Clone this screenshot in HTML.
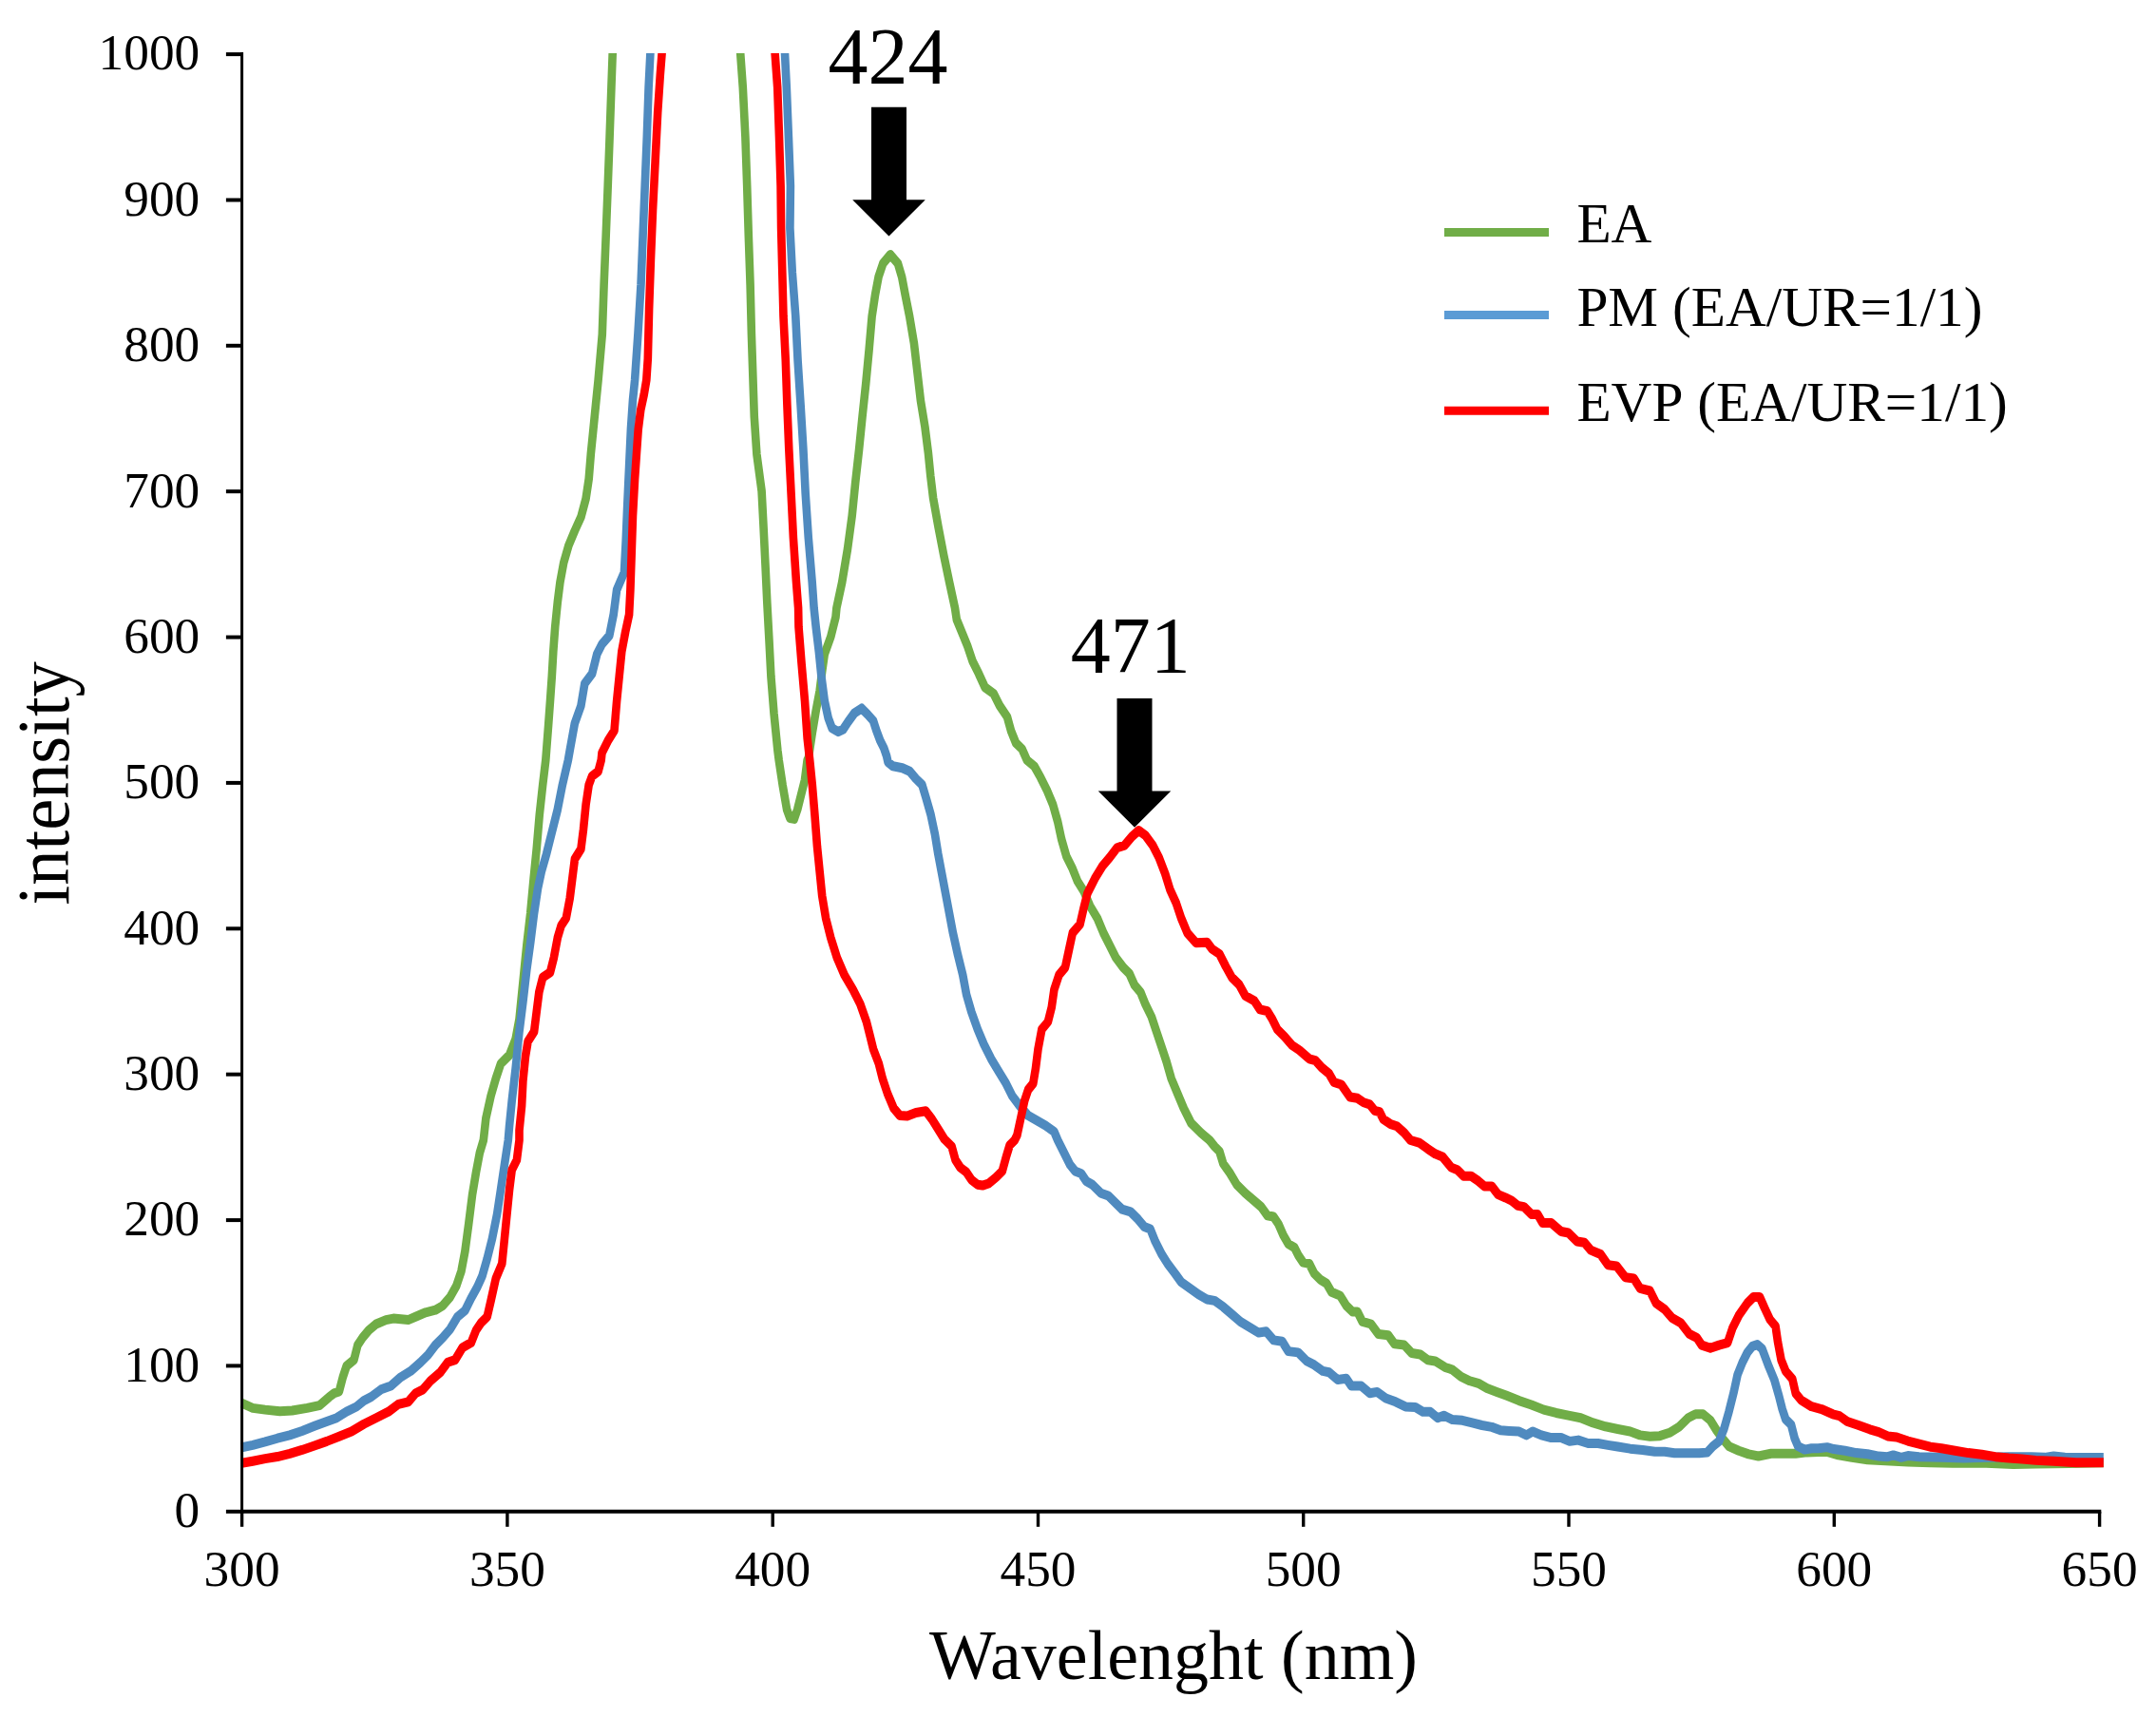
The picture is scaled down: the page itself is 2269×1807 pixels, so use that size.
<!DOCTYPE html>
<html><head><meta charset="utf-8"><title>Spectra</title>
<style>
html,body{margin:0;padding:0;background:#fff;}
body{width:2269px;height:1807px;overflow:hidden;}
svg{display:block;}
text{font-family:"Liberation Serif",serif;fill:#000;}
.tk{font-size:53.3px;}
.ttl{font-size:74px;}
.lg{font-size:59.3px;font-kerning:none;}
.an{font-size:84px;}
.c{fill:none;stroke-width:8.6;stroke-linejoin:round;stroke-linecap:butt;}
</style></head><body>
<svg width="2269" height="1807" viewBox="0 0 2269 1807">
<rect width="2269" height="1807" fill="#fff"/>
<defs><clipPath id="pa"><rect x="250" y="56" width="1964" height="1540"/></clipPath></defs>

<g clip-path="url(#pa)"><g transform="scale(1,1.1628)">
<polyline class="c" stroke="#70AD47" points="254.3,1269.9 266.0,1274.4 279.0,1275.9 294.5,1277.3 307.5,1276.6 323.1,1274.4 336.1,1272.1 346.5,1264.3 351.7,1261.0 356.9,1259.4 360.8,1246.4 364.7,1236.4 372.5,1230.8 376.4,1217.4 381.6,1210.7 388.1,1204.0 395.8,1198.4 406.2,1194.6 414.0,1193.3 421.8,1193.9 429.6,1194.6 437.4,1191.7 447.8,1187.9 458.2,1185.7 466.0,1181.7 473.8,1173.8 480.3,1163.8 485.5,1150.4 489.4,1132.5 493.2,1107.9 497.1,1081.1 501.0,1061.0 504.9,1043.2 508.8,1032.0 511.4,1011.9 516.6,991.8 521.8,976.2 527.0,962.8 536.1,954.9 542.6,940.4 546.5,922.5 550.4,889.0 554.3,855.5 558.2,826.5 561.6,795.2 564.7,768.4 567.8,737.1 571.2,710.3 574.3,688.0 575.1,679.1 577.1,656.7 579.0,634.4 580.8,612.1 582.3,589.7 584.2,567.4 586.8,545.0 589.4,527.2 593.2,509.3 598.4,493.7 604.9,480.3 611.4,468.0 616.6,451.2 619.7,433.4 621.8,411.0 624.4,388.7 627.0,366.3 629.6,344.0 633.8,302.5 635.6,257.8 637.7,213.1 639.7,168.4 641.6,123.8 643.4,79.1 644.7,48.2 652.0,-129.0 770.0,-129.0 779.2,48.2 781.8,79.1 784.4,123.8 786.2,168.4 787.8,213.1 789.6,257.8 790.9,302.5 793.8,377.5 796.4,411.0 801.6,444.5 803.6,478.0 805.5,511.5 807.3,545.0 809.4,578.5 811.4,612.1 814.5,645.6 818.4,679.1 819.7,688.0 823.6,710.3 828.1,732.7 831.4,740.5 835.8,741.2 839.2,732.7 843.1,719.3 847.0,705.9 849.6,688.0 850.9,685.8 854.8,663.4 858.7,643.3 862.6,625.5 865.2,607.6 867.8,591.9 874.3,576.3 879.5,558.4 880.4,550.3 886.2,526.9 892.0,496.9 896.7,466.8 900.2,436.8 904.1,406.7 907.6,376.7 911.3,346.6 914.6,316.6 917.6,286.5 921.1,266.5 924.6,250.5 929.3,238.4 937.0,230.4 944.9,238.4 949.1,250.5 952.6,266.5 957.2,286.5 961.9,310.6 965.4,336.6 968.9,362.6 973.5,386.7 977.0,410.7 979.3,430.7 982.1,450.8 987.5,476.8 993.3,502.9 999.1,526.9 1005.0,550.3 1006.8,560.7 1013.2,574.1 1018.4,585.2 1023.6,598.6 1030.1,609.8 1036.6,622.1 1045.7,627.7 1052.2,638.9 1060.0,648.9 1063.9,661.2 1069.1,672.4 1075.6,677.9 1080.8,688.0 1088.6,693.6 1095.1,703.6 1101.6,714.8 1108.1,728.2 1113.2,743.8 1117.1,759.5 1122.3,775.1 1128.8,786.3 1134.0,797.5 1140.5,806.4 1147.0,819.8 1154.8,831.0 1161.3,844.4 1167.8,855.5 1174.3,866.7 1182.1,875.6 1188.6,881.2 1193.8,891.3 1200.3,898.0 1205.5,909.1 1211.9,920.3 1217.1,933.7 1222.3,947.1 1227.5,960.5 1232.7,976.2 1239.2,989.6 1245.7,1003.0 1253.5,1016.4 1263.9,1025.3 1273.0,1032.0 1278.2,1037.6 1283.4,1042.1 1287.3,1053.2 1293.8,1061.0 1301.6,1072.2 1310.6,1080.0 1327.3,1092.3 1333.8,1100.1 1340.3,1101.2 1345.5,1107.9 1350.6,1118.0 1355.8,1125.8 1362.3,1129.2 1366.2,1135.9 1371.4,1142.6 1377.9,1143.7 1383.1,1152.6 1389.6,1158.2 1396.1,1161.6 1401.3,1169.4 1410.4,1172.7 1416.9,1181.7 1423.4,1187.2 1428.6,1187.2 1433.8,1196.2 1442.9,1198.4 1450.6,1207.4 1461.0,1208.5 1467.5,1216.3 1477.9,1217.4 1485.7,1224.6 1494.8,1225.9 1502.6,1230.8 1510.4,1231.9 1520.8,1237.5 1528.6,1239.7 1537.7,1246.0 1546.8,1249.8 1555.8,1252.0 1564.9,1256.5 1575.3,1259.8 1585.7,1263.2 1598.7,1267.7 1611.7,1271.5 1624.7,1275.9 1637.7,1278.8 1650.6,1281.1 1663.6,1283.3 1676.6,1287.8 1689.6,1291.1 1702.6,1293.4 1715.6,1295.6 1726.0,1298.9 1736.4,1300.1 1746.8,1299.6 1757.1,1296.7 1767.5,1291.1 1776.6,1283.3 1784.4,1279.9 1792.2,1279.9 1800.0,1285.5 1806.5,1294.5 1813.0,1302.3 1819.5,1309.0 1829.9,1313.0 1840.3,1316.1 1850.6,1317.9 1863.9,1315.6 1878.0,1315.6 1889.8,1315.6 1901.7,1314.4 1913.5,1314.0 1922.9,1314.0 1934.7,1317.0 1948.9,1319.1 1965.4,1321.1 1984.3,1322.1 2007.9,1323.1 2031.5,1323.7 2055.1,1324.1 2090.5,1324.1 2118.8,1325.2 2142.5,1324.9 2177.9,1324.3 2213.8,1323.7"/>
<polyline class="c" stroke="#4F8ABF" points="254.3,1310.1 266.0,1307.9 279.0,1305.0 291.9,1301.8 304.9,1298.9 317.9,1295.1 330.9,1290.7 343.9,1286.6 354.3,1283.3 364.7,1277.7 375.1,1273.2 382.9,1267.7 390.6,1264.3 401.0,1257.6 411.4,1254.3 421.8,1246.4 432.2,1240.9 442.6,1233.0 450.4,1226.3 458.2,1217.4 466.0,1210.7 473.8,1202.9 481.6,1191.7 489.4,1186.1 495.8,1175.0 502.3,1164.9 507.5,1154.9 512.7,1139.2 517.9,1121.4 523.1,1099.0 527.0,1076.7 530.9,1054.3 534.8,1032.0 536.1,1018.6 538.7,996.3 542.6,967.2 546.5,933.7 550.4,906.9 554.3,877.9 558.2,853.3 562.1,826.5 566.0,804.2 569.9,788.5 575.1,772.9 580.3,755.0 586.8,732.7 591.9,710.3 597.9,688.0 599.7,679.1 604.9,654.5 611.4,638.9 615.3,618.8 623.1,609.8 628.3,591.9 633.5,583.0 641.3,575.2 645.7,556.2 649.1,533.9 656.9,518.2 658.7,489.2 660.3,455.7 662.1,422.2 663.9,388.7 666.0,361.9 668.1,344.0 671.4,302.5 674.5,257.8 676.6,213.1 678.7,168.4 680.8,123.8 682.6,79.1 684.4,48.2 692.0,-129.0 818.0,-129.0 826.0,48.2 827.8,79.1 829.9,123.8 831.9,168.4 831.4,206.4 833.8,246.5 837.3,286.5 839.6,326.6 842.6,366.6 845.4,406.7 847.7,446.8 850.8,486.8 854.7,526.9 856.6,550.3 858.7,567.4 861.8,589.7 864.4,612.1 867.8,634.4 871.7,650.0 875.6,659.0 882.1,662.3 887.3,660.1 892.5,653.4 899.0,645.6 906.8,641.1 913.2,646.7 919.0,652.3 922.3,661.2 926.2,670.1 930.1,676.8 933.0,684.0 934.5,689.8 939.7,693.4 949.6,695.1 957.4,698.1 963.9,704.8 970.4,710.3 974.3,721.5 979.5,737.1 983.9,755.0 987.3,772.9 991.2,790.8 995.1,808.6 999.0,826.5 1002.9,844.4 1008.1,864.5 1013.2,882.3 1017.1,900.2 1022.3,915.8 1028.8,931.5 1035.3,944.9 1043.1,958.3 1050.9,969.5 1058.7,980.6 1065.2,991.8 1073.0,1000.7 1082.1,1009.7 1091.2,1014.1 1100.3,1018.6 1109.4,1024.2 1113.2,1032.0 1119.7,1043.2 1126.2,1054.3 1131.4,1059.9 1137.9,1062.2 1143.1,1068.9 1149.6,1072.2 1158.7,1080.0 1166.5,1082.3 1174.3,1089.0 1180.8,1094.5 1189.9,1096.8 1197.7,1103.5 1204.2,1110.2 1210.6,1112.4 1215.8,1123.6 1222.3,1134.8 1228.8,1143.7 1236.6,1152.6 1243.1,1160.4 1252.2,1166.0 1261.3,1171.6 1270.4,1176.1 1278.2,1177.2 1287.3,1182.8 1296.4,1189.5 1305.5,1196.2 1324.7,1206.2 1332.5,1205.1 1340.3,1212.9 1349.4,1214.1 1355.8,1223.0 1366.2,1224.1 1375.3,1231.9 1383.1,1235.3 1392.2,1240.9 1398.7,1242.0 1407.8,1248.7 1416.9,1247.6 1422.1,1254.3 1432.5,1254.3 1441.6,1261.0 1449.4,1259.8 1458.4,1265.4 1468.8,1268.8 1479.2,1273.2 1489.6,1273.7 1497.4,1277.7 1505.2,1277.7 1513.0,1283.3 1519.5,1281.1 1528.6,1284.9 1539.0,1285.5 1549.4,1287.8 1559.7,1290.0 1570.1,1291.6 1579.2,1294.5 1588.3,1295.1 1598.7,1295.6 1606.5,1298.9 1613.0,1295.6 1622.1,1298.9 1632.5,1301.2 1642.9,1301.2 1651.9,1304.5 1661.0,1303.4 1671.4,1306.3 1681.8,1306.3 1692.2,1307.9 1702.6,1309.4 1715.6,1311.2 1728.6,1312.3 1741.6,1313.9 1751.9,1313.9 1762.3,1315.2 1775.3,1315.2 1788.3,1315.2 1796.6,1314.6 1802.6,1309.0 1809.1,1304.5 1814.3,1293.4 1819.5,1277.7 1824.7,1259.8 1828.6,1244.2 1833.8,1233.0 1839.0,1224.1 1844.2,1218.5 1849.4,1217.0 1854.5,1220.8 1861.5,1236.8 1867.4,1249.0 1872.1,1263.2 1875.7,1275.4 1879.2,1284.5 1885.1,1289.6 1888.7,1301.8 1892.2,1308.9 1899.3,1312.0 1906.4,1310.9 1913.5,1310.9 1922.9,1309.9 1930.0,1311.5 1941.8,1313.0 1953.6,1315.0 1965.4,1316.0 1977.2,1318.0 1986.6,1318.5 1992.5,1317.0 2000.8,1319.1 2007.9,1317.6 2019.7,1318.5 2043.3,1319.1 2066.9,1319.7 2090.5,1319.1 2114.1,1318.5 2137.7,1318.5 2151.9,1319.1 2161.3,1318.0 2173.1,1319.1 2196.8,1319.3 2213.8,1319.3"/>
<polyline class="c" stroke="#FF0000" points="254.3,1324.2 266.0,1322.4 279.0,1320.2 291.9,1318.4 304.9,1315.7 317.9,1312.3 330.9,1308.5 343.9,1304.5 356.9,1300.1 369.9,1295.6 382.9,1288.9 395.8,1283.3 408.8,1277.7 419.2,1271.0 429.6,1268.8 437.4,1261.0 445.2,1257.6 453.0,1249.8 463.4,1242.0 471.2,1233.0 479.0,1230.8 486.8,1219.6 495.8,1215.2 501.0,1204.0 506.2,1197.3 512.7,1191.7 516.6,1177.2 521.8,1157.1 528.3,1143.7 530.9,1121.4 533.5,1099.0 536.1,1076.7 538.7,1058.8 543.9,1049.9 546.5,1032.0 546.5,1023.1 549.1,1000.7 550.4,978.4 553.0,956.1 555.6,942.6 562.1,933.7 564.7,915.8 567.3,898.0 571.2,884.6 579.0,880.1 582.9,866.7 586.8,848.8 590.6,837.7 595.8,831.0 599.7,813.1 602.3,795.2 604.9,777.4 611.4,768.4 614.0,750.5 616.6,728.2 619.7,710.3 623.1,702.5 629.6,698.1 632.7,688.0 633.5,681.3 640.0,670.1 646.5,661.2 649.1,634.4 651.7,612.1 654.3,589.7 658.2,571.8 662.1,556.2 663.4,533.9 664.7,500.4 666.0,466.9 668.1,433.4 669.9,411.0 671.7,388.7 674.3,370.8 677.7,357.4 680.3,344.0 681.8,324.8 683.1,280.1 684.9,235.4 687.0,190.8 689.6,146.1 692.2,101.4 694.8,67.9 696.6,48.2 705.0,-129.0 808.0,-129.0 815.6,48.2 818.2,79.1 820.0,123.8 821.6,168.4 822.1,206.4 823.3,246.5 824.5,286.5 826.8,326.6 828.4,366.6 830.3,406.7 832.6,446.8 834.9,486.8 838.0,526.9 840.1,550.3 840.5,567.4 843.6,600.9 847.0,634.4 849.6,667.9 852.2,688.0 854.8,710.3 857.4,737.1 860.0,766.2 862.6,788.5 865.2,810.9 869.1,831.0 874.3,848.8 880.8,866.7 888.6,882.3 897.7,895.7 905.5,909.1 911.9,924.8 915.8,938.2 919.0,949.4 924.9,962.8 928.8,976.2 934.0,989.6 940.5,1003.0 947.0,1009.7 954.8,1010.1 963.9,1007.0 974.3,1005.6 980.8,1013.0 987.3,1021.9 993.8,1030.9 995.1,1032.0 1001.6,1037.6 1005.5,1049.9 1010.6,1056.6 1017.1,1061.0 1022.3,1067.7 1028.8,1072.2 1034.0,1072.9 1040.5,1071.1 1048.3,1065.5 1054.8,1059.9 1058.7,1047.6 1062.6,1036.5 1067.8,1032.0 1070.4,1027.5 1074.3,1011.9 1078.2,996.3 1082.1,986.2 1087.3,980.6 1089.9,967.2 1092.5,949.4 1096.4,931.5 1102.9,924.8 1106.8,911.4 1109.4,895.7 1114.5,882.3 1121.0,875.6 1124.9,860.0 1128.8,844.4 1136.6,836.5 1140.5,822.0 1144.4,808.6 1152.2,795.2 1160.0,784.1 1167.8,776.2 1175.6,767.3 1183.4,765.1 1191.2,757.2 1198.4,751.7 1205.5,756.1 1213.2,765.1 1219.7,776.2 1226.2,790.8 1231.4,805.3 1237.9,817.6 1243.1,831.0 1249.6,844.4 1258.7,853.3 1270.4,852.9 1275.6,858.9 1283.4,863.4 1289.9,874.5 1296.4,884.6 1304.2,891.3 1310.6,901.3 1320.0,905.8 1326.0,913.6 1333.8,915.2 1339.0,922.5 1344.2,931.5 1351.9,938.2 1359.7,946.0 1367.5,950.5 1377.9,958.3 1384.4,959.8 1390.9,966.1 1398.7,971.7 1403.9,979.5 1411.7,981.7 1420.8,992.9 1428.6,994.0 1435.1,997.8 1441.6,999.6 1446.8,1005.2 1451.9,1006.3 1455.8,1013.0 1463.6,1017.5 1470.1,1019.3 1477.9,1025.3 1484.4,1032.0 1493.5,1034.2 1502.6,1039.8 1510.4,1044.3 1518.2,1047.0 1527.3,1056.6 1533.8,1058.8 1540.3,1064.4 1548.1,1064.4 1555.8,1068.9 1562.3,1073.8 1570.1,1073.8 1576.6,1081.1 1584.4,1084.0 1590.9,1086.7 1597.4,1091.2 1603.9,1092.3 1611.7,1099.0 1618.2,1099.0 1623.4,1106.8 1632.5,1106.8 1642.9,1114.6 1650.6,1115.8 1659.7,1123.6 1667.5,1124.7 1674.0,1131.4 1684.4,1135.2 1692.2,1144.8 1701.3,1145.9 1710.4,1156.0 1719.5,1157.1 1726.0,1166.0 1736.4,1168.3 1742.9,1179.4 1751.9,1185.0 1759.7,1192.8 1768.8,1197.3 1777.9,1207.4 1785.7,1210.7 1790.9,1217.4 1800.0,1220.1 1809.1,1217.4 1818.2,1215.2 1823.4,1201.8 1829.9,1190.6 1839.0,1179.4 1845.5,1173.8 1851.9,1173.8 1857.1,1183.9 1862.7,1194.2 1868.6,1200.3 1871.0,1214.5 1874.5,1230.7 1879.2,1240.9 1886.3,1248.0 1889.8,1261.2 1895.7,1267.3 1906.4,1273.0 1917.0,1275.4 1928.8,1279.9 1935.9,1281.5 1944.1,1286.6 1956.0,1290.0 1967.8,1293.7 1977.2,1296.1 1986.6,1299.8 1996.1,1300.8 2007.9,1304.2 2019.7,1306.9 2031.5,1309.5 2043.3,1310.9 2057.5,1313.0 2071.6,1315.0 2085.8,1316.4 2100.0,1318.5 2114.1,1319.7 2128.3,1320.5 2142.5,1321.7 2161.3,1322.5 2185.0,1323.7 2213.8,1323.7"/>
</g></g>
<g stroke="#000" fill="none">
<line x1="254.6" y1="55.1" x2="254.6" y2="1592.8" stroke-width="3"/>
<line x1="253.1" y1="1590.8" x2="2211.2999999999997" y2="1590.8" stroke-width="4"/>
<line x1="254.6" y1="1590.8" x2="254.6" y2="1606.8" stroke-width="3.4"/>
<line x1="533.9" y1="1590.8" x2="533.9" y2="1606.8" stroke-width="3.4"/>
<line x1="813.2" y1="1590.8" x2="813.2" y2="1606.8" stroke-width="3.4"/>
<line x1="1092.5" y1="1590.8" x2="1092.5" y2="1606.8" stroke-width="3.4"/>
<line x1="1371.7" y1="1590.8" x2="1371.7" y2="1606.8" stroke-width="3.4"/>
<line x1="1651.0" y1="1590.8" x2="1651.0" y2="1606.8" stroke-width="3.4"/>
<line x1="1930.3" y1="1590.8" x2="1930.3" y2="1606.8" stroke-width="3.4"/>
<line x1="2209.6" y1="1590.8" x2="2209.6" y2="1606.8" stroke-width="3.4"/>
<line x1="254.6" y1="1590.8" x2="237.9" y2="1590.8" stroke-width="4"/>
<line x1="254.6" y1="1437.4" x2="237.9" y2="1437.4" stroke-width="4"/>
<line x1="254.6" y1="1284.1" x2="237.9" y2="1284.1" stroke-width="4"/>
<line x1="254.6" y1="1130.7" x2="237.9" y2="1130.7" stroke-width="4"/>
<line x1="254.6" y1="977.3" x2="237.9" y2="977.3" stroke-width="4"/>
<line x1="254.6" y1="823.9" x2="237.9" y2="823.9" stroke-width="4"/>
<line x1="254.6" y1="670.6" x2="237.9" y2="670.6" stroke-width="4"/>
<line x1="254.6" y1="517.2" x2="237.9" y2="517.2" stroke-width="4"/>
<line x1="254.6" y1="363.8" x2="237.9" y2="363.8" stroke-width="4"/>
<line x1="254.6" y1="210.5" x2="237.9" y2="210.5" stroke-width="4"/>
<line x1="254.6" y1="57.1" x2="237.9" y2="57.1" stroke-width="4"/>
</g>
<text class="tk" text-anchor="middle" x="254.6" y="1669.3">300</text>
<text class="tk" text-anchor="middle" x="533.9" y="1669.3">350</text>
<text class="tk" text-anchor="middle" x="813.2" y="1669.3">400</text>
<text class="tk" text-anchor="middle" x="1092.5" y="1669.3">450</text>
<text class="tk" text-anchor="middle" x="1371.7" y="1669.3">500</text>
<text class="tk" text-anchor="middle" x="1651.0" y="1669.3">550</text>
<text class="tk" text-anchor="middle" x="1930.3" y="1669.3">600</text>
<text class="tk" text-anchor="middle" x="2209.6" y="1669.3">650</text>
<text class="tk" text-anchor="end" x="210.2" y="1607.1">0</text>
<text class="tk" text-anchor="end" x="210.2" y="1453.7">100</text>
<text class="tk" text-anchor="end" x="210.2" y="1300.4">200</text>
<text class="tk" text-anchor="end" x="210.2" y="1147.0">300</text>
<text class="tk" text-anchor="end" x="210.2" y="993.6">400</text>
<text class="tk" text-anchor="end" x="210.2" y="840.2">500</text>
<text class="tk" text-anchor="end" x="210.2" y="686.9">600</text>
<text class="tk" text-anchor="end" x="210.2" y="533.5">700</text>
<text class="tk" text-anchor="end" x="210.2" y="380.1">800</text>
<text class="tk" text-anchor="end" x="210.2" y="226.8">900</text>
<text class="tk" text-anchor="end" x="210.2" y="73.4">1000</text>
<text class="ttl" text-anchor="middle" x="1235" y="1767.2">Wavelenght (nm)</text>
<text class="ttl" style="font-size:74.4px" text-anchor="middle" transform="translate(71.7,824.3) rotate(-90) scale(1,1.045)">intensity</text>
<line x1="1520" y1="244.4" x2="1630" y2="244.4" stroke="#70AD47" stroke-width="9"/>
<text class="lg" x="1659.4" y="254.8">EA</text>
<line x1="1520" y1="331.5" x2="1630" y2="331.5" stroke="#5B9BD5" stroke-width="9"/>
<text class="lg" x="1659.4" y="343.2">PM (EA/UR=1/1)</text>
<line x1="1520" y1="432.2" x2="1630" y2="432.2" stroke="#FF0000" stroke-width="9"/>
<text class="lg" x="1659.4" y="442.9">EVP (EA/UR=1/1)</text>
<text class="an" text-anchor="middle" x="934.5" y="88">424</text>
<text class="an" text-anchor="middle" x="1189.8" y="708">471</text>
<polygon fill="#000" points="917.0,112.8 954.0,112.8 954.0,210.3 973.8,210.3 935.5,248.5 897.2,210.3 917.0,210.3"/>
<polygon fill="#000" points="1175.5,735 1212.5,735 1212.5,832.5 1232.3,832.5 1194,870.7 1155.7,832.5 1175.5,832.5"/>
</svg></body></html>
